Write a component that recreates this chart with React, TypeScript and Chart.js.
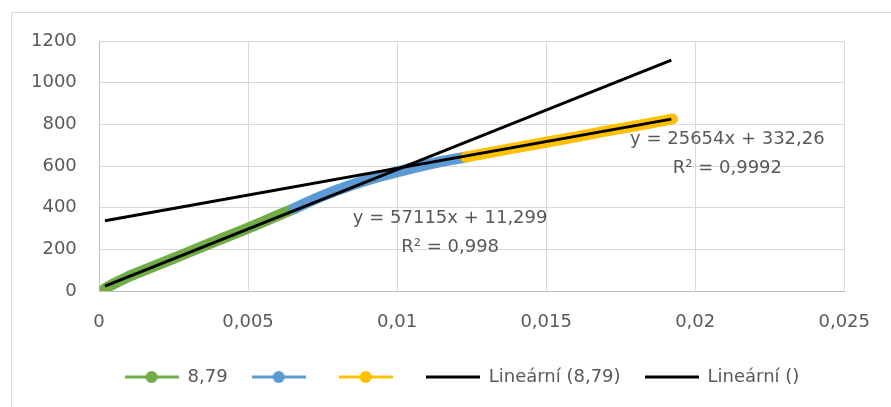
import React, { useEffect, useRef } from 'react';
import { Chart, registerables } from 'chart.js';

Chart.register(...registerables);

// ---- data ----
const greenX = [0.0002, 0.0005, 0.001, 0.0015, 0.002, 0.0025, 0.003, 0.0035, 0.004, 0.0045, 0.005, 0.0055, 0.006, 0.00656];
const greenY = [12, 35, 70, 99, 128, 157, 186, 215, 244, 273, 302, 332, 363, 396];

const blueX = [0.00656, 0.007, 0.0075, 0.008, 0.0085, 0.009, 0.0095, 0.01, 0.0105, 0.011, 0.0115, 0.0123];
const blueY = [396, 426, 457, 485, 510, 533, 553, 572, 590, 606, 622, 643];

const yellowX = [0.0123, 0.013, 0.014, 0.015, 0.016, 0.017, 0.018, 0.019, 0.01924];
const yellowY = [643, 662, 688, 714, 740, 767, 793, 819, 826];

const trend1X = [0.0002, 0.0192];
const trend1Y = [23, 1108];
const trend2X = [0.0002, 0.0192];
const trend2Y = [337, 825];

const seriesNames = ['8,79', '', '', 'Lineární (8,79)', 'Lineární ()'];
const seriesColors = ['#70AD47', '#5B9BD5', '#FFC000', '#000000', '#000000'];
const seriesMarkers = [true, true, true, false, false];

const xTickLabels = ['0', '0,005', '0,01', '0,015', '0,02', '0,025'];
const yTickLabels = ['0', '200', '400', '600', '800', '1000', '1200'];

const eqTexts = ['y = 57115x + 11,299', 'R² = 0,998', 'y = 25654x + 332,26', 'R² = 0,9992'];
const eqAnchorsX = [0.01178, 0.01178, 0.02108, 0.02108];
const eqAnchorsY = [350, 211, 730, 590];

const FONT = '"DejaVu Sans", sans-serif';
const TEXT = '#595959';

const pts = (xs: number[], ys: number[]) => xs.map((x, i) => ({ x, y: ys[i] }));

function makeIcon(color: string, marker: boolean): HTMLCanvasElement {
  const c = document.createElement('canvas');
  c.width = 54;
  c.height = 14;
  const g = c.getContext('2d')!;
  g.strokeStyle = color;
  g.lineWidth = 3;
  g.beginPath();
  g.moveTo(0, 7);
  g.lineTo(54, 7);
  g.stroke();
  if (marker) {
    g.fillStyle = color;
    g.beginPath();
    g.arc(27, 7, 6, 0, Math.PI * 2);
    g.fill();
  }
  return c;
}

const eqPlugin = {
  id: 'eqLabels',
  afterDatasetsDraw(chart: any) {
    const { ctx, scales } = chart;
    ctx.save();
    ctx.font = `18px ${FONT}`;
    ctx.fillStyle = TEXT;
    ctx.textAlign = 'center';
    ctx.textBaseline = 'middle';
    eqTexts.forEach((t, i) => {
      ctx.fillText(t, scales.x.getPixelForValue(eqAnchorsX[i]), scales.y.getPixelForValue(eqAnchorsY[i]));
    });
    ctx.restore();
  },
};

export default function App() {
  const ref = useRef<HTMLCanvasElement | null>(null);

  useEffect(() => {
    if (!ref.current) return;
    const icons = seriesColors.map((c, i) => makeIcon(c, seriesMarkers[i]));
    const thick = (i: number, xs: number[], ys: number[], order: number) => ({
      label: seriesNames[i],
      data: pts(xs, ys),
      borderColor: seriesColors[i],
      backgroundColor: seriesColors[i],
      borderWidth: 11,
      borderCapStyle: 'round',
      borderJoinStyle: 'round',
      pointRadius: 0,
      showLine: true,
      order,
    });
    const thin = (i: number, xs: number[], ys: number[]) => ({
      label: seriesNames[i],
      data: pts(xs, ys),
      borderColor: seriesColors[i],
      backgroundColor: seriesColors[i],
      borderWidth: 3,
      pointRadius: 0,
      showLine: true,
      order: 0,
    });
    const chart = new Chart(ref.current, {
      type: 'scatter',
      data: {
        datasets: [
          thick(0, greenX, greenY, 3),
          thick(1, blueX, blueY, 2),
          thick(2, yellowX, yellowY, 1),
          thin(3, trend1X, trend1Y),
          thin(4, trend2X, trend2Y),
        ] as any,
      },
      options: {
        animation: false,
        responsive: false,
        layout: { padding: { left: 78, right: 45, top: 41, bottom: 11 } },
        font: { family: FONT },
        plugins: {
          tooltip: { enabled: false },
          legend: {
            position: 'bottom',
            labels: {
              usePointStyle: true,
              pointStyleWidth: 54,
              padding: 24,
              color: TEXT,
              font: { family: FONT, size: 18 },
              generateLabels: () =>
                seriesNames.map((name, i) => ({
                  text: name,
                  pointStyle: icons[i] as any,
                  fillStyle: 'transparent',
                  strokeStyle: 'transparent',
                  lineWidth: 0,
                  hidden: false,
                  datasetIndex: i,
                  fontColor: TEXT,
                })),
            },
          },
        },
        scales: {
          x: {
            type: 'linear',
            min: 0,
            max: 0.025,
            afterFit: (s: any) => {
              s.height = 53;
            },
            ticks: {
              stepSize: 0.005,
              padding: 21,
              maxRotation: 0,
              autoSkip: false,
              color: TEXT,
              font: { family: FONT, size: 18 },
              callback: (_v: any, i: number) => xTickLabels[i],
            },
            grid: { color: '#D9D9D9', lineWidth: 1, drawTicks: false },
            border: { color: '#BFBFBF', width: 1 },
          },
          y: {
            type: 'linear',
            min: 0,
            max: 1200,
            afterFit: (s: any) => {
              s.width = 21;
            },
            ticks: {
              stepSize: 200,
              mirror: true,
              crossAlign: 'far',
              padding: -68,
              color: TEXT,
              font: { family: FONT, size: 18 },
              callback: (_v: any, i: number) => yTickLabels[i],
            },
            grid: { color: '#D9D9D9', lineWidth: 1, drawTicks: false },
            border: { color: '#BFBFBF', width: 1 },
          },
        },
      } as any,
      plugins: [eqPlugin],
    });
    return () => chart.destroy();
  }, []);

  return (
    <div
      style={{
        position: 'fixed',
        left: 0,
        top: 0,
        width: 891,
        height: 407,
        overflow: 'hidden',
        background: '#ffffff',
      }}
    >
      <div
        style={{
          position: 'absolute',
          left: 11,
          top: 12,
          width: 920,
          height: 440,
          borderTop: '1px solid #D9D9D9',
          borderLeft: '1px solid #D9D9D9',
        }}
      />
      <canvas
        ref={ref}
        width={891}
        height={407}
        style={{ position: 'absolute', left: 0, top: 0, width: 891, height: 407 }}
      />
    </div>
  );
}
